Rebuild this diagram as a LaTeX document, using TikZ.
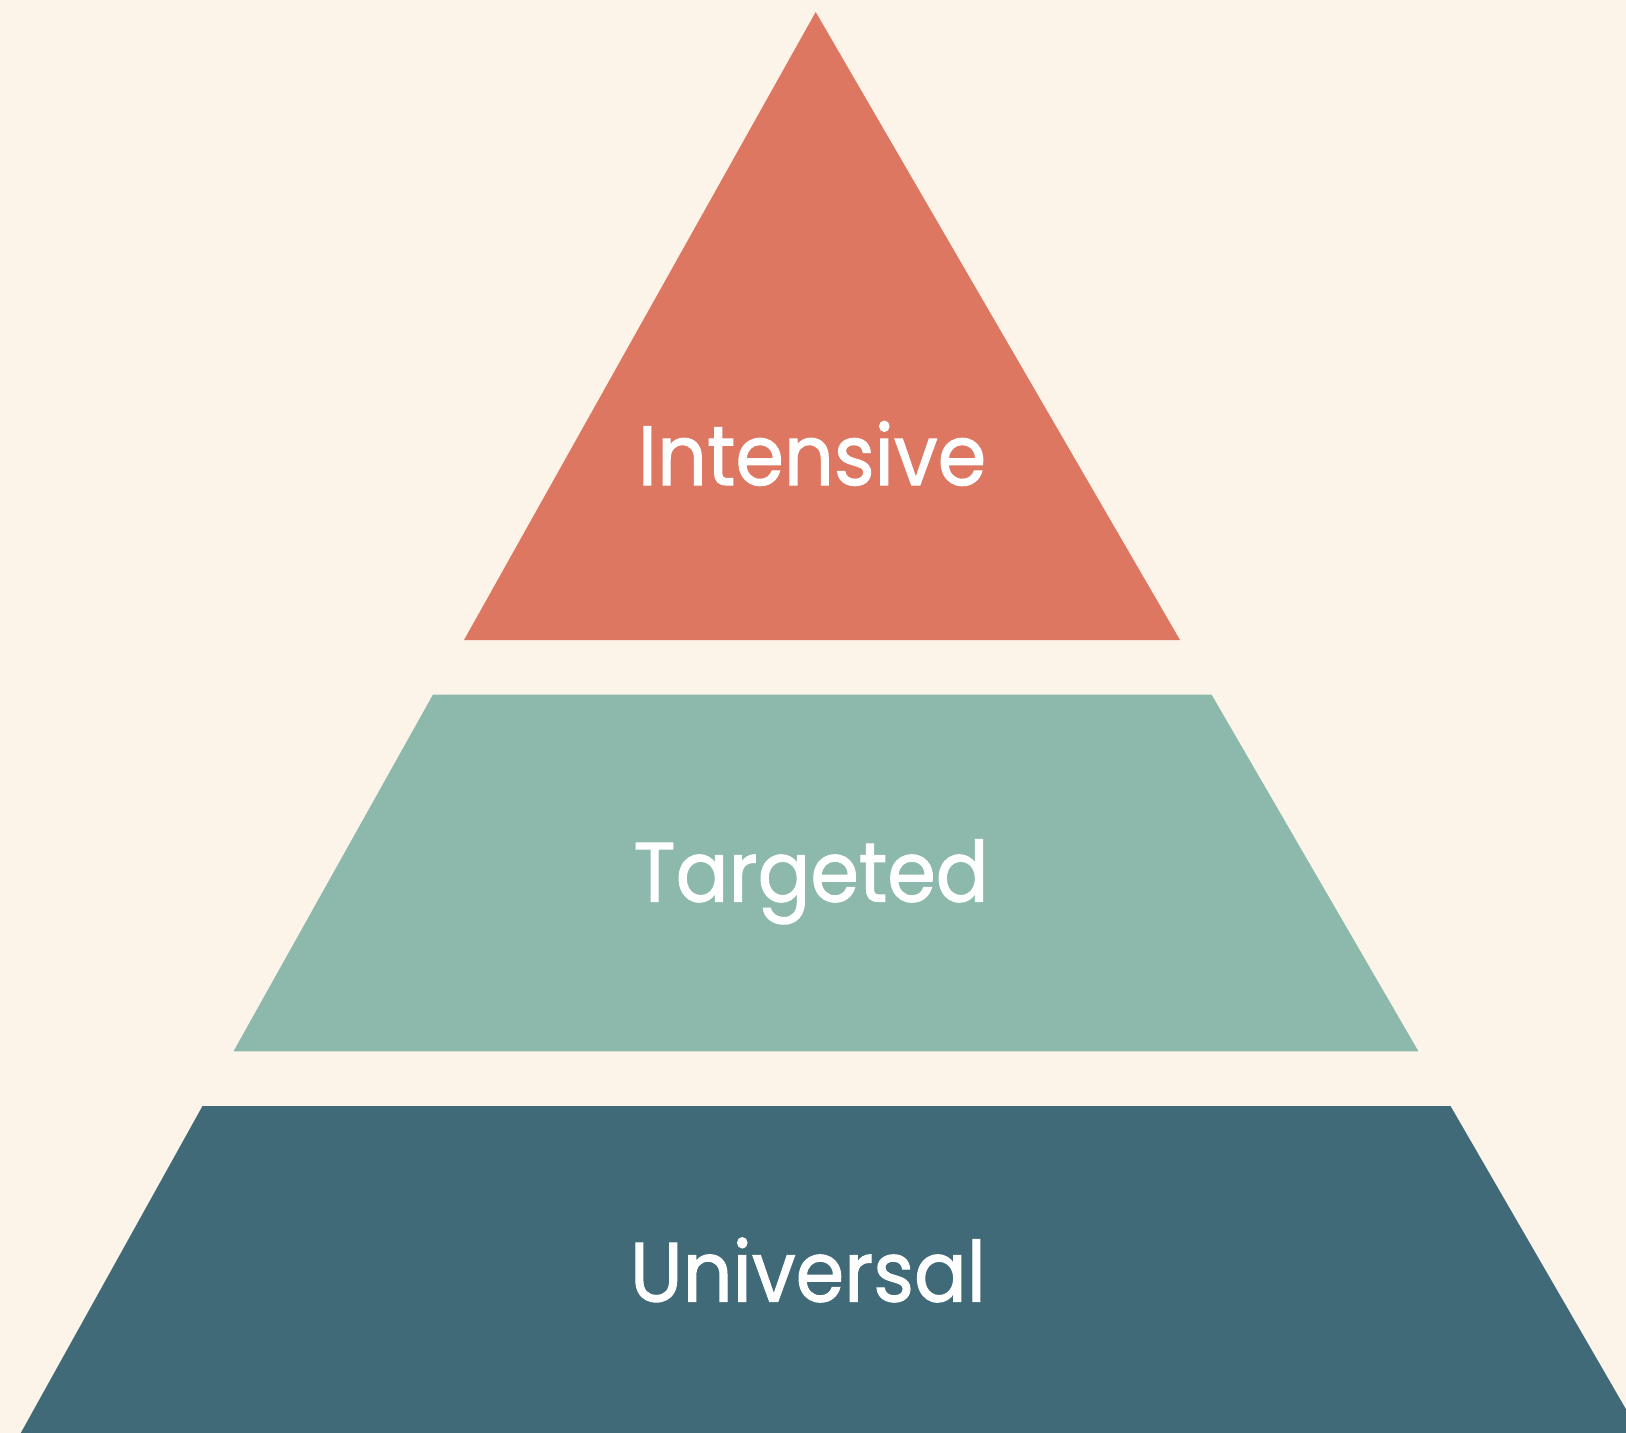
\documentclass[tikz,border=0pt]{standalone}
\usepackage{fontspec}
\newfontfamily\labelfont[FakeBold=1.3]{Poppins}
\definecolor{bgc}{HTML}{FCF4E9}
\definecolor{topc}{HTML}{DE7761}
\definecolor{midc}{HTML}{8DB9AC}
\definecolor{botc}{HTML}{406A77}
\tikzset{
  tier/.style={draw=none},
  tierlabel/.style={text=white, anchor=base, inner sep=0pt, xscale=0.93, font=\labelfont\fontsize{84}{100}\selectfont}
}
\begin{document}
\begin{tikzpicture}[x=1pt,y=-1pt]
\useasboundingbox (0,0) rectangle (1626,1433);
\clip (0,0) rectangle (1626,1433);
\fill[bgc] (0,0) rectangle (1626,1433);
\fill[topc, tier] (815.7,12) -- (1180,640) -- (464,640) -- cycle;
\fill[midc, tier] (433,694.5) -- (1211.5,694.5) -- (1418.4,1051.3) -- (233.5,1051.3) -- cycle;
\fill[botc, tier] (202.5,1106) -- (1450.5,1106) -- (1640,1433.5) -- (20.5,1433.5) -- cycle;
\node[tierlabel] (intensive) at (812,485) {Intensive};
\node[tierlabel] (targeted) at (811,901.5) {Targeted};
\node[tierlabel] (universal) at (808,1301.5) {Universal};
\end{tikzpicture}
\end{document}
